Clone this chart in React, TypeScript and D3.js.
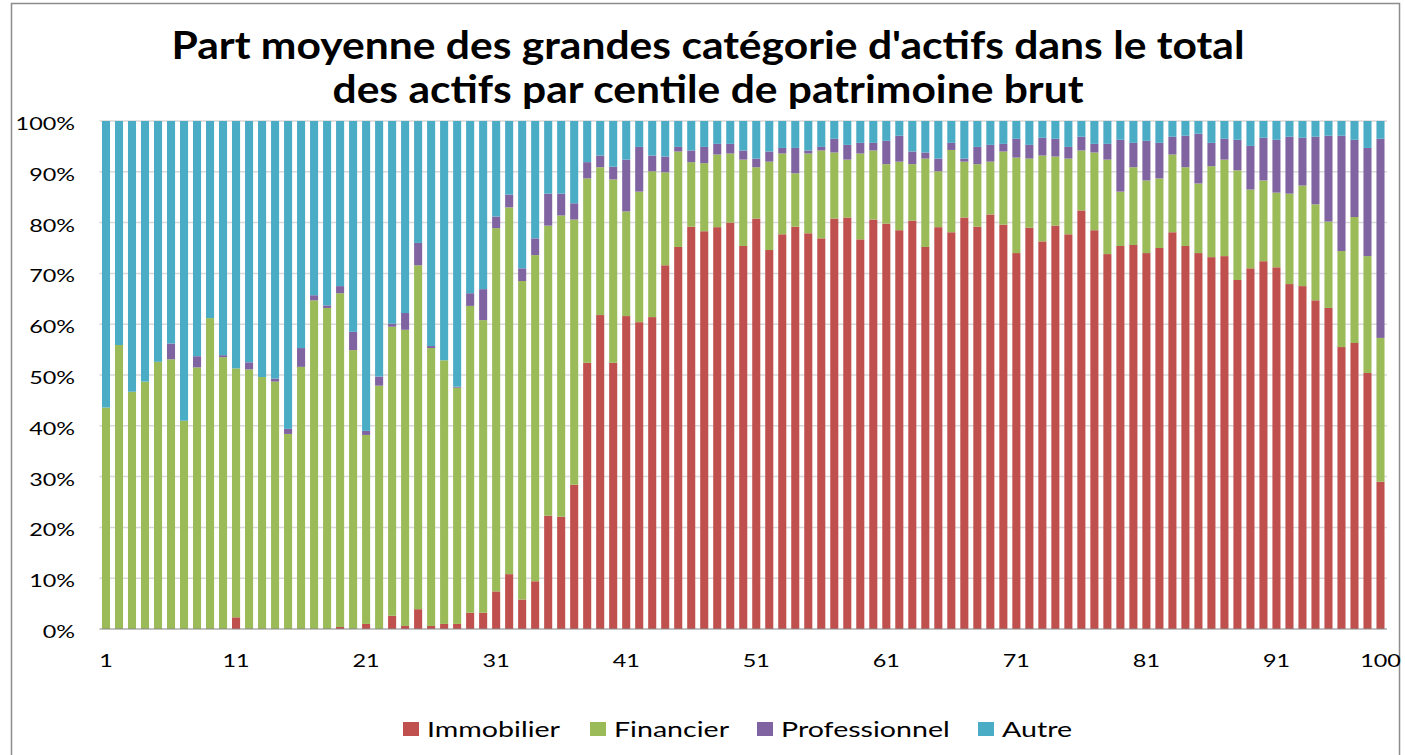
import React from 'react';
import * as d3 from 'd3';

// centiles de patrimoine brut (99 barres visibles, la dernière étiquetée "100")
const centiles: number[] = d3.range(1, 100);

// parts en %
const immobilier = [
  0, 0, 0, 0, 0, 0, 0, 0, 0, 0,
  2.3, 0, 0, 0, 0, 0, 0, 0, 0.4, 0,
  1.0, 0, 2.6, 0.6, 3.9, 0.6, 1.0, 1.0, 3.2, 3.2,
  7.4, 10.8, 5.8, 9.4, 22.3, 22.1, 28.4, 52.4, 61.8, 52.4,
  61.6, 60.4, 61.4, 71.6, 75.2, 79.2, 78.3, 79.1, 80.0, 75.4,
  80.8, 74.6, 77.7, 79.2, 77.9, 76.9, 80.8, 81.0, 76.7, 80.6,
  79.8, 78.5, 80.4, 75.2, 79.1, 78.1, 81.0, 79.2, 81.6, 79.6,
  74.0, 79.0, 76.3, 79.4, 77.7, 82.4, 78.5, 73.8, 75.4, 75.6,
  74.0, 75.0, 78.1, 75.4, 74.0, 73.2, 73.4, 68.7, 71.0, 72.4,
  71.2, 67.9, 67.5, 64.7, 63.2, 55.5, 56.3, 50.4, 29.0,
];
const financier = [
  43.6, 55.9, 46.7, 48.7, 52.6, 53.1, 41.0, 51.5, 61.2, 53.5,
  49.0, 51.1, 49.6, 48.7, 38.4, 51.6, 64.7, 63.2, 65.7, 54.9,
  37.2, 47.9, 56.9, 58.3, 67.7, 54.7, 51.9, 46.5, 60.4, 57.6,
  71.5, 72.2, 62.7, 64.2, 57.1, 59.3, 52.2, 36.3, 29.1, 36.1,
  20.6, 25.7, 28.7, 18.3, 18.8, 12.7, 13.4, 14.3, 13.6, 17.0,
  10.1, 17.4, 15.9, 10.5, 15.7, 17.3, 13.0, 11.4, 16.9, 13.6,
  11.7, 13.5, 11.1, 17.4, 11.0, 16.2, 11.0, 12.3, 10.4, 14.4,
  18.8, 13.6, 16.9, 13.6, 14.9, 11.8, 15.3, 18.6, 10.7, 15.3,
  14.3, 13.7, 15.3, 15.5, 13.7, 17.9, 19.0, 21.6, 15.5, 15.9,
  14.7, 17.8, 19.8, 18.9, 17.0, 18.9, 24.8, 23.0, 28.3,
];
const professionnel = [
  0, 0, 0, 0, 0, 3.1, 0, 2.2, 0, 0.4,
  0, 1.4, 0, 0.6, 1.0, 3.7, 1.0, 0.5, 1.4, 3.6,
  0.8, 1.8, 0.6, 3.3, 4.4, 0.4, 0, 0.2, 2.5, 6.1,
  2.3, 2.5, 2.5, 3.3, 6.3, 4.3, 3.2, 3.2, 2.3, 2.5,
  10.2, 8.8, 3.1, 3.1, 0.9, 2.3, 3.2, 2.1, 1.9, 1.8,
  1.7, 2.0, 1.1, 5.0, 0.6, 0.7, 2.7, 2.9, 2.1, 1.5,
  4.6, 5.1, 2.5, 1.2, 2.5, 1.4, 0.6, 3.4, 3.3, 1.5,
  3.7, 2.7, 3.5, 3.5, 2.3, 2.7, 1.7, 3.1, 10.2, 4.8,
  7.8, 7.0, 3.5, 6.2, 9.8, 4.6, 4.1, 6.0, 8.6, 8.4,
  10.4, 11.2, 9.4, 13.3, 16.9, 22.7, 15.2, 21.3, 39.2,
];
const autre = [
  56.4, 44.1, 53.3, 51.3, 47.4, 43.8, 59.0, 46.3, 38.8, 46.1,
  48.7, 47.5, 50.4, 50.7, 60.6, 44.7, 34.3, 36.3, 32.5, 41.5,
  61.0, 50.3, 39.9, 37.8, 24.0, 44.3, 47.1, 52.3, 33.9, 33.1,
  18.8, 14.5, 29.0, 23.1, 14.3, 14.3, 16.2, 8.1, 6.8, 9.0,
  7.6, 5.1, 6.8, 7.0, 5.1, 5.8, 5.1, 4.5, 4.5, 5.8,
  7.4, 6.0, 5.3, 5.3, 5.8, 5.1, 3.5, 4.7, 4.3, 4.3,
  3.9, 2.9, 6.0, 6.2, 7.4, 4.3, 7.4, 5.1, 4.7, 4.5,
  3.5, 4.7, 3.3, 3.5, 5.1, 3.1, 4.5, 4.5, 3.7, 4.3,
  3.9, 4.3, 3.1, 2.9, 2.5, 4.3, 3.5, 3.7, 4.9, 3.3,
  3.7, 3.1, 3.3, 3.1, 2.9, 2.9, 3.7, 5.3, 3.5,
];

const seriesNames = ['Immobilier', 'Financier', 'Professionnel', 'Autre'];
const seriesColors = ['#C0504D', '#9BBB59', '#8064A2', '#4BACC6'];

const yTicks = [0, 10, 20, 30, 40, 50, 60, 70, 80, 90, 100];
const xTicks = [1, 11, 21, 31, 41, 51, 61, 71, 81, 91, 99];
const xTickLabels = ['1', '11', '21', '31', '41', '51', '61', '71', '81', '91', '100'];

const titleLines = [
  "Part moyenne des grandes catégorie d'actifs dans le total",
  'des actifs par centile de patrimoine brut',
];

// layout
const W = 1405;
const H = 755;
const plot = { left: 99.5, right: 1387, top: 121, bottom: 629 };
const FONT = 'Lato, "Open Sans", sans-serif';
const SX = 1.3; // the original picture is stretched horizontally

const StretchText = ({ x, y, anchor = 'start', size, children }: any) => (
  <text
    transform={`translate(${x},${y}) scale(${SX},1)`}
    textAnchor={anchor}
    fontSize={size}
    fontFamily={FONT}
    fill="#000"
  >
    {children}
  </text>
);

const App = () => {
  const rows = centiles.map((c, i) => ({
    centile: c,
    Immobilier: immobilier[i],
    Financier: financier[i],
    Professionnel: professionnel[i],
    Autre: autre[i],
  }));

  const x = d3.scaleBand<number>()
    .domain(centiles)
    .range([plot.left, plot.right])
    .paddingInner(0.38)
    .paddingOuter(0.19);

  const y = d3.scaleLinear()
    .domain([0, 100])
    .range([plot.bottom, plot.top]);

  const color = d3.scaleOrdinal<string, string>().domain(seriesNames).range(seriesColors);

  const stacked = d3.stack<any>().keys(seriesNames)(rows);

  // legend entries: square x, label x
  const legendX = [403, 590, 757, 978];
  const legendY = 737;

  return (
    <svg
      width={W}
      height={H}
      style={{ position: 'absolute', left: 0, top: 0, background: '#fff' }}
    >
      <rect x={11.5} y={3.5} width={1388} height={H} fill="#fff" stroke="#8c8c8c" strokeWidth={1.5} />

      {/* title */}
      {titleLines.map((t, i) => (
        <text
          key={t}
          x={708}
          y={59 + i * 44}
          textAnchor="middle"
          fontFamily={FONT}
          fontWeight="bold"
          fontSize={39}
          textLength={i === 0 ? 1073 : 751}
          lengthAdjust="spacingAndGlyphs"
          fill="#000"
        >
          {t}
        </text>
      ))}

      {/* gridlines */}
      {yTicks.filter(v => v > 0).map(v => (
        <line
          key={v}
          x1={plot.left}
          x2={plot.right}
          y1={y(v)}
          y2={y(v)}
          stroke="#d9d9d9"
          strokeWidth={1.5}
        />
      ))}

      {/* bars */}
      {stacked.map(layer => (
        <g key={layer.key} fill={color(layer.key)}>
          {layer.map((d: any) => (
            <rect
              key={d.data.centile}
              x={x(d.data.centile)}
              y={y(d[1])}
              width={x.bandwidth()}
              height={Math.max(0, y(d[0]) - y(d[1]))}
            />
          ))}
        </g>
      ))}

      {/* x axis line */}
      <line x1={plot.left} x2={plot.right} y1={plot.bottom} y2={plot.bottom} stroke="#868686" strokeWidth={1.2} />

      {/* y labels */}
      {yTicks.map(v => (
        <StretchText key={v} x={75} y={y(v) + 9} anchor="end" size={18}>
          {`${v}%`}
        </StretchText>
      ))}

      {/* x labels */}
      {xTicks.map((c, i) => (
        <StretchText key={c} x={(x(c) as number) + x.bandwidth() / 2} y={667} anchor="middle" size={18}>
          {xTickLabels[i]}
        </StretchText>
      ))}

      {/* legend */}
      {seriesNames.map((name, i) => (
        <g key={name}>
          <rect x={legendX[i]} y={legendY - 15} width={16} height={14} fill={color(name)} />
          <StretchText x={legendX[i] + 24} y={legendY} size={22}>
            {name}
          </StretchText>
        </g>
      ))}
    </svg>
  );
};

export default App;
